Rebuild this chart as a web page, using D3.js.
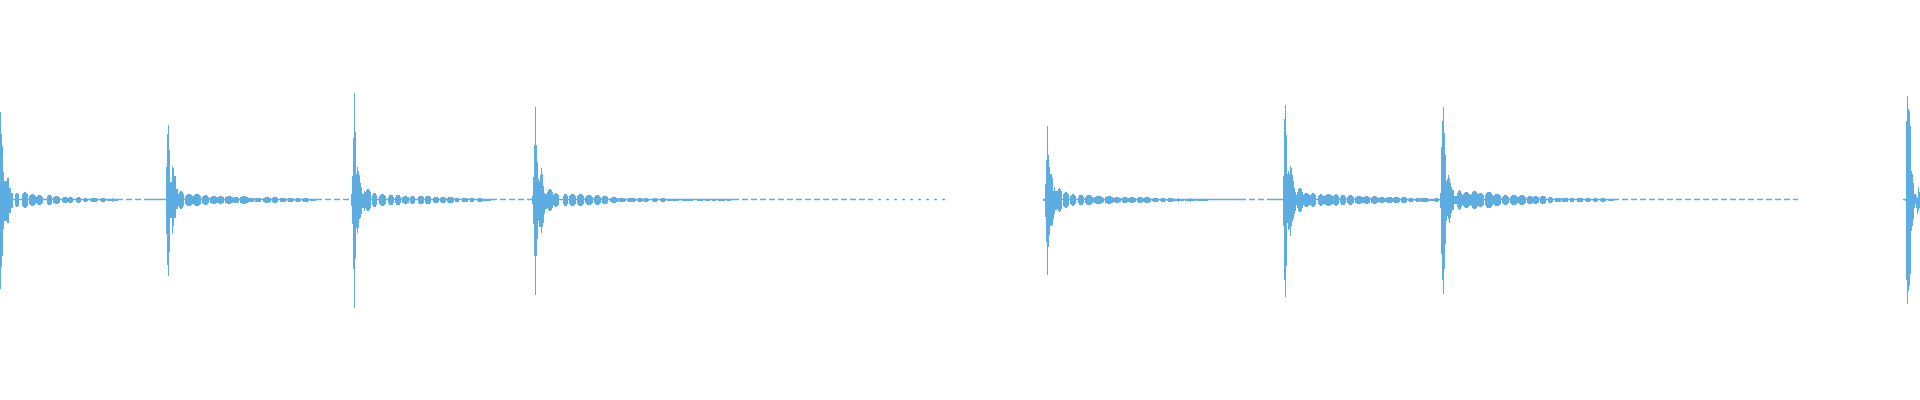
<!DOCTYPE html>
<html>
<head>
<meta charset="utf-8">
<script src="https://cdn.jsdelivr.net/npm/d3@7"></script>
<style>
    html, body { margin: 0; padding: 0; background: #fff; }
    svg { display: block; }
</style>
</head>
<body>
<svg id="wave" width="1920" height="400"></svg>
<script>
// first column of each hit's attack (sample-column index)
var hitStarts = [0, 166, 351, 532, 1045, 1283, 1440, 1905];

// per-column peak above / below zero for the attack of each hit
var attackUp = [
    [88, 66, 54, 28, 19, 19, 19, 22, 22, 12, 12, 7, 7],
    [33, 66, 75, 50, 18, 18, 34, 32, 24, 24, 11, 11],
    [6, 24, 62, 107, 68, 26, 33, 29, 25, 17, 12, 6, 6, 9],
    [4, 23, 55, 93, 55, 38, 21, 19, 25, 32, 26, 14, 7, 6, 6],
    [16, 40, 74, 45, 33, 26, 26, 22, 9, 13, 9, 9],
    [24, 81, 95, 65, 26, 29, 26, 34, 32, 25, 19, 12, 8, 5],
    [7, 53, 79, 93, 67, 45, 19, 21, 25, 22, 17, 13, 10, 10, 4, 4, 4],
    [1, 79, 104, 91, 89, 74, 29, 26, 17, 6, 6, 4, 2, 13, 8]
];
var attackDown = [
    [89, 67, 56, 29, 21, 21, 21, 23, 23, 13, 13, 8, 8],
    [34, 65, 76, 52, 18, 18, 34, 26, 18, 18, 9, 9],
    [6, 24, 69, 108, 59, 28, 33, 28, 19, 18, 14, 8, 8, 11],
    [4, 24, 56, 95, 56, 39, 21, 27, 27, 33, 27, 23, 14, 9, 9],
    [17, 42, 75, 47, 35, 26, 26, 25, 19, 14, 10, 10],
    [26, 80, 97, 66, 23, 30, 29, 36, 26, 21, 19, 14, 11, 5],
    [8, 54, 80, 94, 69, 44, 21, 16, 19, 23, 18, 13, 10, 10, 4, 4, 4],
    [1, 80, 104, 91, 86, 74, 31, 26, 19, 8, 4, 8, 14, 11, 8]
];

// decaying ring bursts after each hit: [from, to, peak]
var tailLobes = [
    [15, 18, 7], [22, 27, 8], [29, 35, 6], [36, 42, 5], [47, 51, 5], [53, 59, 4],
    [62, 67, 3], [68, 72, 3], [76, 80, 3], [83, 87, 2], [90, 97, 2], [100, 105, 2], [107, 117, 1.5],

    [178, 183, 9], [185, 192, 6], [193, 200, 6], [202, 208, 5], [210, 217, 4], [217, 223, 4],
    [225, 232, 4], [233, 238, 3], [240, 247, 4], [248, 253, 2.5], [255, 260, 2.5], [263, 270, 3],
    [272, 277, 3], [280, 285, 2.5], [287, 293, 2], [295, 300, 2], [302, 308, 2], [310, 315, 1.5],

    [365, 370, 11], [372, 376, 7], [379, 385, 6], [388, 393, 5], [395, 400, 5], [402, 408, 4],
    [410, 414, 4], [418, 423, 4], [425, 430, 4], [433, 438, 3], [440, 445, 3], [447, 453, 3],
    [455, 458, 2.5], [462, 467, 2.5], [470, 473, 2], [477, 482, 2], [483, 490, 1.5],

    [547, 552, 11], [553, 558, 7], [563, 567, 6], [569, 575, 6], [577, 583, 6], [585, 592, 5],
    [594, 600, 5], [602, 607, 4], [610, 617, 3], [618, 625, 2], [627, 635, 2], [637, 642, 2],
    [643, 648, 2], [652, 657, 2], [660, 665, 2], [667, 672, 1.5], [673, 678, 1.5], [682, 687, 1.5],
    [688, 692, 1], [697, 702, 1], [705, 709, 1], [712, 715, 1], [718, 724, 1], [727, 730, 1],

    [1057, 1061, 12], [1063, 1068, 8], [1070, 1075, 6], [1078, 1083, 5], [1085, 1092, 5],
    [1093, 1103, 4], [1105, 1112, 4], [1113, 1120, 3], [1122, 1127, 3], [1128, 1135, 3],
    [1137, 1142, 3], [1143, 1150, 3], [1152, 1158, 2], [1160, 1165, 2], [1167, 1173, 2],
    [1173, 1183, 1.5], [1185, 1195, 1.5], [1197, 1207, 1],

    [1297, 1302, 12], [1303, 1309, 7], [1310, 1315, 7], [1318, 1323, 6], [1324, 1332, 6],
    [1333, 1338, 6], [1340, 1345, 5], [1347, 1353, 5], [1355, 1362, 4], [1363, 1369, 4],
    [1371, 1377, 4], [1378, 1385, 3], [1386, 1392, 3], [1393, 1399, 3], [1401, 1406, 3],
    [1408, 1413, 2], [1415, 1420, 2], [1423, 1428, 2], [1430, 1437, 1.5],

    [1457, 1461, 10], [1462, 1470, 8], [1471, 1477, 9], [1477, 1483, 7], [1485, 1492, 8],
    [1493, 1500, 6], [1502, 1508, 5], [1510, 1517, 5], [1518, 1525, 5], [1527, 1532, 4],
    [1532, 1538, 4], [1540, 1545, 4], [1548, 1552, 3], [1555, 1560, 2.5], [1562, 1567, 2.5],
    [1570, 1573, 2.5], [1577, 1582, 2.5], [1585, 1590, 2], [1593, 1597, 2], [1600, 1605, 2],
    [1608, 1613, 1.5]
];

// low-level noise bumps (before hits 5 and 7)
var noiseLobes = [[1420, 1424, 2], [1426, 1431, 1.5], [1434, 1438, 2], [1043, 1044, 1]];

// near-silent stretches: continuous and broken
var solidRuns = [[0, 117], [150, 316], [351, 491], [532, 733], [1043, 1240], [1270, 1613], [1903, 1920]];
var dashRuns = [[117, 150], [316, 351], [491, 532], [733, 870], [1240, 1270], [1613, 1798]];
var sparseRuns = [[870, 946]];

var svg = d3.select('#wave');
var width = 1920;
var height = 400;
var color = '#5dade2';

var x = d3.scaleLinear().domain([0, 1920]).range([0, width]);
var y = d3.scaleLinear().domain([-120, 120]).range([319.5, 79.5]);
var colW = x(1) - x(0);

svg.append('rect').attr('width', width).attr('height', height).attr('fill', '#fff');

var g = svg.append('g');

var drawRuns = function (cls, runs, dash) {
    g.selectAll('line.' + cls)
        .data(runs)
        .enter()
        .append('line')
        .attr('class', cls)
        .attr('x1', function (d) { return x(d[0]); })
        .attr('x2', function (d) { return x(d[1]); })
        .attr('y1', y(0))
        .attr('y2', y(0))
        .style('stroke', color)
        .style('stroke-width', 1.4)
        .style('stroke-dasharray', dash);
};

drawRuns('solid', solidRuns, null);
drawRuns('dash', dashRuns, '6,3');
drawRuns('sparse', sparseRuns, '3,5');

// every burst is rendered as pixel columns, tallest in its middle
var columns = [];
tailLobes.concat(noiseLobes).forEach(function (d) {
    var mid = (d[0] + d[1]) / 2;
    var half = (d[1] - d[0]) / 2 + 1;
    for (var c = d[0]; c <= d[1]; c++) {
        var k = Math.sqrt(Math.max(0, 1 - Math.pow((c - mid) / half, 2)));
        var a = Math.max(1, Math.round(d[2] * k));
        columns.push({col: c, up: a, down: a});
    }
});

// attack columns, one bar per sample column
hitStarts.forEach(function (start, h) {
    attackUp[h].forEach(function (up, i) {
        columns.push({col: start + i, up: up, down: attackDown[h][i]});
    });
});

g.selectAll('rect.col')
    .data(columns)
    .enter()
    .append('rect')
    .attr('class', 'col')
    .attr('x', function (d) { return x(d.col); })
    .attr('width', colW)
    .attr('y', function (d) { return y(d.up); })
    .attr('height', function (d) { return y(-d.down) - y(d.up); })
    .attr('shape-rendering', 'crispEdges')
    .style('fill', color);
</script>
</body>
</html>
